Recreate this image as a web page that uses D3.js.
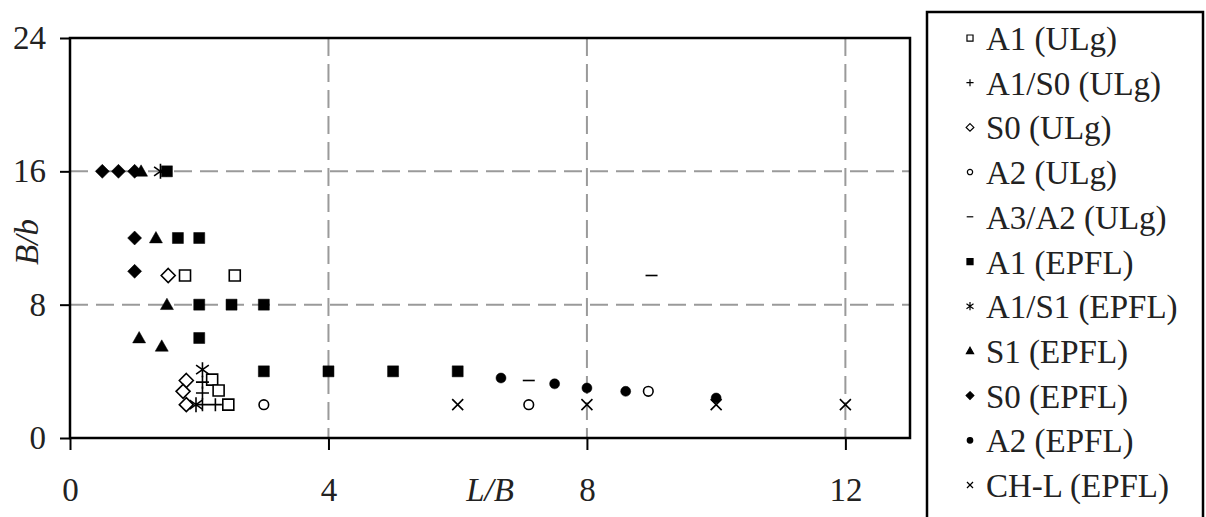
<!DOCTYPE html>
<html><head><meta charset="utf-8">
<script src="https://cdn.jsdelivr.net/npm/d3@7"></script>
<style>
body{margin:0;background:#fff}svg{display:block}
text{font-family:"Liberation Serif","Times New Roman",Times,"DejaVu Serif",serif;}
</style>
</head><body>
<svg id="c" width="1206" height="517"></svg>
<script>
// ---- data ----
const xTicks = [0, 4, 8, 12];
const yTicks = [0, 8, 16, 24];
const xGrid = [4, 8, 12];
const yGrid = [8, 16];
const xTitle = "L/B";
const yTitle = "B/b";

const a1ULg   = [[1.78, 9.75], [2.55, 9.75], [2.2, 3.5], [2.3, 2.85], [2.45, 2.0]];
const a1s0ULg = [[2.05, 3.35], [2.05, 2.7], [2.05, 2.0], [2.25, 2.0]];
const s0ULg   = [[1.52, 9.75], [1.8, 3.45], [1.75, 2.8], [1.8, 2.0]];
const a2ULg   = [[3.0, 2.0], [7.1, 2.0], [8.95, 2.8]];
const a3a2ULg = [[7.1, 3.45], [9.0, 9.75]];
const a1EPFL  = [[1.5, 16], [1.67, 12], [2.0, 12], [2.0, 8], [2.5, 8], [3.0, 8], [2.0, 6], [3.0, 4], [4.0, 4], [5.0, 4], [6.0, 4]];
const a1s1EPFL= [[1.4, 16], [2.05, 4.1], [1.95, 2.0]];
const s1EPFL  = [[1.1, 16], [1.33, 12], [1.5, 8], [1.07, 6], [1.42, 5.5]];
const s0EPFL  = [[0.5, 16], [0.75, 16], [1.0, 16], [1.0, 12], [1.0, 10]];
const a2EPFL  = [[6.67, 3.6], [7.5, 3.25], [8.0, 3.0], [8.6, 2.8], [10.0, 2.4]];
const chlEPFL = [[6.0, 2.0], [8.0, 2.0], [10.0, 2.0], [12.0, 2.0]];

const seriesNames = ["A1 (ULg)", "A1/S0 (ULg)", "S0 (ULg)", "A2 (ULg)", "A3/A2 (ULg)",
  "A1 (EPFL)", "A1/S1 (EPFL)", "S1 (EPFL)", "S0 (EPFL)", "A2 (EPFL)", "CH-L (EPFL)"];
const seriesData = [a1ULg, a1s0ULg, s0ULg, a2ULg, a3a2ULg, a1EPFL, a1s1EPFL, s1EPFL, s0EPFL, a2EPFL, chlEPFL];
const seriesMarker = ["openSquare", "plus", "openDiamond", "openCircle", "dash",
  "square", "asterisk", "triangle", "diamond", "circle", "times"];

// ---- marker shapes ----
function markerPath(type, k) {
  const p = d3.path();
  let s;
  switch (type) {
    case "openSquare": s = 5.5 * k; p.rect(-s, -s, 2 * s, 2 * s); break;
    case "square": s = 5.5 * k; p.rect(-s, -s, 2 * s, 2 * s); break;
    case "openDiamond": s = 7 * k; p.moveTo(0, -s); p.lineTo(s, 0); p.lineTo(0, s); p.lineTo(-s, 0); p.closePath(); break;
    case "diamond": s = 7 * k; p.moveTo(0, -s); p.lineTo(s, 0); p.lineTo(0, s); p.lineTo(-s, 0); p.closePath(); break;
    case "triangle": s = 6.5 * k; p.moveTo(0, -s); p.lineTo(s, s * 0.75); p.lineTo(-s, s * 0.75); p.closePath(); break;
    case "openCircle": s = 4.8 * k; p.moveTo(s, 0); p.arc(0, 0, s, 0, 2 * Math.PI); break;
    case "circle": s = 5 * k; p.moveTo(s, 0); p.arc(0, 0, s, 0, 2 * Math.PI); break;
    case "plus": s = 6.5 * k; p.moveTo(-s, 0); p.lineTo(s, 0); p.moveTo(0, -s); p.lineTo(0, s); break;
    case "times": s = 5.5 * k; p.moveTo(-s, -s); p.lineTo(s, s); p.moveTo(-s, s); p.lineTo(s, -s); break;
    case "asterisk": s = 7.5 * k; const d = s * 0.85;
      p.moveTo(0, -s); p.lineTo(0, s); p.moveTo(-d, -d * 0.7); p.lineTo(d, d * 0.7); p.moveTo(-d, d * 0.7); p.lineTo(d, -d * 0.7); break;
    case "dash": s = 6 * k; p.moveTo(-s, 0); p.lineTo(s, 0); break;
  }
  return p.toString();
}
function markerStyle(sel, type) {
  const filled = ["square", "diamond", "triangle", "circle"].includes(type);
  const openShape = ["openSquare", "openDiamond", "openCircle"].includes(type);
  sel.attr("fill", filled ? "#000" : (openShape ? "#fff" : "none"))
     .attr("stroke", "#000")
     .attr("stroke-width", filled ? 0.5 : 1.6);
}

// ---- layout ----
const svg = d3.select("#c");
const x = d3.scaleLinear().domain([0, 13]).range([70, 910]);
const y = d3.scaleLinear().domain([0, 24]).range([438, 38]);

// grid
const g = svg.append("g");
g.selectAll("line.gx").data(xGrid).join("line")
  .attr("x1", d => x(d)).attr("x2", d => x(d)).attr("y1", y(24)).attr("y2", y(0))
  .attr("stroke", "#9a9a9a").attr("stroke-width", 2).attr("stroke-dasharray", "18,8");
g.selectAll("line.gy").data(yGrid).join("line")
  .attr("y1", d => y(d)).attr("y2", d => y(d)).attr("x1", x(0)).attr("x2", x(13))
  .attr("stroke", "#9a9a9a").attr("stroke-width", 2).attr("stroke-dasharray", "18,8");

// frame
svg.append("rect").attr("x", x(0)).attr("y", y(24)).attr("width", x(13) - x(0)).attr("height", y(0) - y(24))
  .attr("fill", "none").attr("stroke", "#000").attr("stroke-width", 2.5);

// axes
const xAxis = svg.append("g").attr("transform", `translate(0,${y(0)})`)
  .call(d3.axisBottom(x).tickValues(xTicks).tickSize(12).tickPadding(28).tickFormat(d3.format("d")));
const yAxis = svg.append("g").attr("transform", `translate(${x(0)},0)`)
  .call(d3.axisLeft(y).tickValues(yTicks).tickSize(10).tickPadding(14).tickFormat(d3.format("d")));
[xAxis, yAxis].forEach(a => {
  a.select(".domain").remove();
  a.attr("font-family", null);
  a.selectAll(".tick line").attr("stroke", "#000").attr("stroke-width", 2);
  a.selectAll(".tick text").attr("font-size", 33).attr("fill", "#222");
});
xAxis.selectAll(".tick text").attr("dy", "0.71em");

// axis titles
svg.append("text").attr("x", 490).attr("y", 501).attr("text-anchor", "middle")
  .attr("font-size", 33).attr("font-style", "italic").attr("fill", "#222").text(xTitle);
svg.append("text").attr("transform", "translate(38,242) rotate(-90)").attr("text-anchor", "middle")
  .attr("font-size", 33).attr("font-style", "italic").attr("fill", "#222").text(yTitle);

// points
seriesData.forEach((data, i) => {
  const type = seriesMarker[i];
  svg.append("g").selectAll("path").data(data).join("path")
    .attr("transform", d => `translate(${x(d[0])},${y(d[1])})`)
    .attr("d", markerPath(type, 1))
    .call(markerStyle, type);
});

// legend
const lg = svg.append("g");
lg.append("rect").attr("x", 927).attr("y", 12).attr("width", 276).attr("height", 520)
  .attr("fill", "#fff").attr("stroke", "#000").attr("stroke-width", 2.5);
const rows = lg.selectAll("g.row").data(seriesNames).join("g")
  .attr("transform", (d, i) => `translate(0,${45 + i * 44.7})`);
rows.append("path").attr("transform", "translate(970,-7)")
  .attr("d", (d, i) => markerPath(seriesMarker[i], 0.55))
  .each(function (d, i) { markerStyle(d3.select(this), seriesMarker[i]); d3.select(this).attr("stroke-width", 1.2); });
rows.append("text").attr("x", 986).attr("y", 5)
  .attr("font-size", 33).attr("fill", "#222").text(d => d);
</script>
</body></html>
